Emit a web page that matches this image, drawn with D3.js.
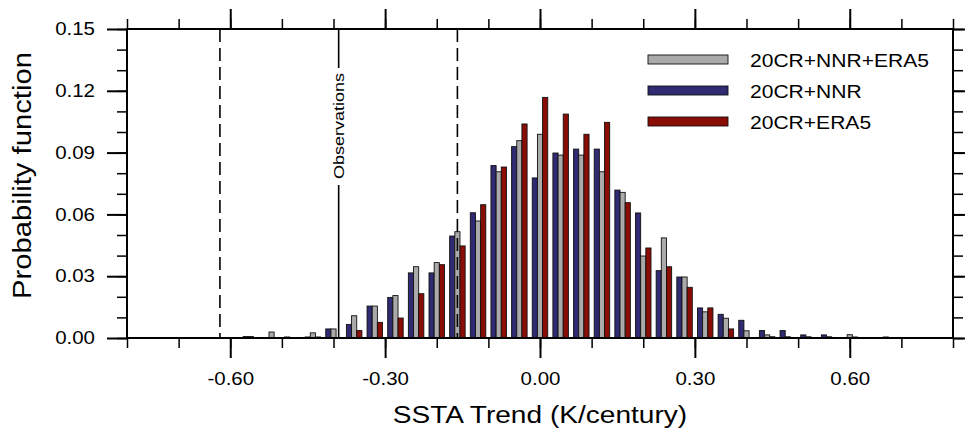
<!DOCTYPE html>
<html>
<head>
<meta charset="utf-8">
<script src="https://cdn.jsdelivr.net/npm/d3@7"></script>
<style>
  body { margin: 0; background: #fff; }
  text { font-family: "Liberation Sans", Arial, sans-serif; fill: #000; }
</style>
</head>
<body>
<svg id="chart"></svg>
<script>
// bin centres (K/century) and probabilities per dataset
const binCenters = [-0.56, -0.52, -0.48, -0.44, -0.40, -0.36, -0.32, -0.28, -0.24, -0.20,
	-0.16, -0.12, -0.08, -0.04, 0.00, 0.04, 0.08, 0.12, 0.16, 0.20,
	0.24, 0.28, 0.32, 0.36, 0.40, 0.44, 0.48, 0.52, 0.56, 0.60, 0.64, 0.68];

const nnr = [0.0007, 0, 0.0005, 0.0005, 0.0044, 0.0066, 0.0155, 0.0197, 0.0316, 0.0316,
	0.0495, 0.0608, 0.0837, 0.0929, 0.0777, 0.0898, 0.0917, 0.0917, 0.0718, 0.0607,
	0.0327, 0.0296, 0.0146, 0.0115, 0.0086, 0.0036, 0.0036, 0.0015, 0.0015, 0, 0, 0.0005];

const nnrEra5 = [0.0007, 0.0029, 0, 0.0025, 0.0044, 0.0108, 0.0155, 0.0206, 0.0346, 0.0366,
	0.0516, 0.0568, 0.0807, 0.0958, 0.0989, 0.0888, 0.0888, 0.0807, 0.0707, 0.0398,
	0.0486, 0.0296, 0.0127, 0.0096, 0.0035, 0.0015, 0.0006, 0.0006, 0.0006, 0.0016, 0, 0];

const era5 = [0, 0, 0, 0.0005, 0, 0.0036, 0.0076, 0.0097, 0.0215, 0.0356,
	0.0447, 0.0647, 0.0830, 0.1039, 0.1168, 0.1087, 0.0989, 0.1047, 0.0657, 0.0437,
	0.0346, 0.0246, 0.0146, 0.0044, 0, 0.0006, 0, 0, 0, 0.0005, 0, 0];

const seriesNames = ['20CR+NNR+ERA5', '20CR+NNR', '20CR+ERA5'];
const xMajorTicks = [-0.6, -0.3, 0, 0.3, 0.6];
const yMajorTicks = [0, 0.03, 0.06, 0.09, 0.12, 0.15];
const observed = -0.39;
const rangeLines = [-0.62, -0.16];

const width = 965, height = 431;
const margin = { top: 29, right: 12, bottom: 93, left: 127 };
const innerW = width - margin.left - margin.right;
const innerH = height - margin.top - margin.bottom;
const sx = 1.17; // the original font is wider than Liberation Sans

const colors = { '20CR+NNR+ERA5': '#aaaaaa', '20CR+NNR': '#2f2a72', '20CR+ERA5': '#8a0d05' };

const svg = d3.select('#chart').attr('width', width).attr('height', height);
const chart = svg.append('g').attr('transform', `translate(${margin.left},${margin.top})`);

const x = d3.scaleLinear().domain([-0.8, 0.8]).range([0, innerW]);
const y = d3.scaleLinear().domain([0, 0.15]).range([innerH, 0]);

const barW = 0.01;
// bar order within a bin: blue, gray, red
const series = [
	{ name: '20CR+NNR', values: nnr, offset: -0.01 },
	{ name: '20CR+NNR+ERA5', values: nnrEra5, offset: 0 },
	{ name: '20CR+ERA5', values: era5, offset: 0.01 },
];

series.forEach((s) => {
	chart.append('g')
		.selectAll('rect')
		.data(binCenters.map((c, i) => ({ c, v: s.values[i] })).filter((d) => d.v > 0))
		.join('rect')
		.attr('x', (d) => x(d.c + s.offset - barW / 2))
		.attr('width', x(barW) - x(0))
		.attr('y', (d) => y(d.v))
		.attr('height', (d) => y(0) - y(d.v))
		.attr('fill', colors[s.name])
		.attr('stroke', '#111')
		.attr('stroke-width', 0.9);
});

// dashed range lines
chart.selectAll('.range-line')
	.data(rangeLines)
	.join('line')
	.attr('class', 'range-line')
	.attr('x1', (d) => x(d)).attr('x2', (d) => x(d))
	.attr('y1', 0).attr('y2', innerH)
	.attr('stroke', '#000')
	.attr('stroke-width', 1.6)
	.attr('stroke-dasharray', '13,6');

// observation line with label cut into it
const obsTextTop = 44, obsTextBottom = 150;
chart.append('line')
	.attr('x1', x(observed)).attr('x2', x(observed))
	.attr('y1', 0).attr('y2', obsTextTop - 5)
	.attr('stroke', '#000').attr('stroke-width', 1.6);
chart.append('line')
	.attr('x1', x(observed)).attr('x2', x(observed))
	.attr('y1', obsTextBottom + 6).attr('y2', innerH)
	.attr('stroke', '#000').attr('stroke-width', 1.6);
chart.append('text')
	.attr('transform', `translate(${x(observed) + 5.5},${(obsTextTop + obsTextBottom) / 2}) rotate(-90) scale(${sx},1)`)
	.attr('text-anchor', 'middle')
	.style('font-size', '15.4px')
	.text('Observations');

// axes: minor ticks, then major ticks with labels
function styleAxis(g, w) {
	g.select('.domain').remove();
	g.selectAll('line').attr('stroke', '#000').attr('stroke-width', w);
}

const xMinor = d3.range(-8, 9).map((i) => i / 10);
const yMinor = d3.range(0, 16).map((i) => i / 100);

chart.append('g').attr('transform', `translate(0,${innerH})`)
	.call(d3.axisBottom(x).tickValues(xMinor).tickSize(10).tickFormat(''))
	.call((g) => styleAxis(g, 1.5));
chart.append('g').call(d3.axisTop(x).tickValues(xMinor).tickSize(10).tickFormat(''))
	.call((g) => styleAxis(g, 1.5));
chart.append('g').call(d3.axisLeft(y).tickValues(yMinor).tickSize(10).tickFormat(''))
	.call((g) => styleAxis(g, 1.5));
chart.append('g').attr('transform', `translate(${innerW},0)`)
	.call(d3.axisRight(y).tickValues(yMinor).tickSize(10).tickFormat(''))
	.call((g) => styleAxis(g, 1.5));

const xAxis = chart.append('g').attr('transform', `translate(0,${innerH})`)
	.call(d3.axisBottom(x).tickValues(xMajorTicks).tickSize(20).tickPadding(15)
		.tickFormat((d) => d.toFixed(2)))
	.call((g) => styleAxis(g, 2));
xAxis.selectAll('text')
	.attr('transform', `scale(${sx},1)`)
	.style('font-size', '17.5px');

chart.append('g')
	.call(d3.axisTop(x).tickValues(xMajorTicks).tickSize(20).tickFormat(''))
	.call((g) => styleAxis(g, 2));

const yAxis = chart.append('g')
	.call(d3.axisLeft(y).tickValues(yMajorTicks).tickSize(20).tickFormat((d) => d.toFixed(2)))
	.call((g) => styleAxis(g, 2));
yAxis.selectAll('text')
	.attr('x', 0)
	.attr('transform', `translate(-32,0) scale(${sx},1)`)
	.style('font-size', '17.5px');

chart.append('g').attr('transform', `translate(${innerW},0)`)
	.call(d3.axisRight(y).tickValues(yMajorTicks).tickSize(20).tickFormat(''))
	.call((g) => styleAxis(g, 2));

// frame
chart.append('rect')
	.attr('width', innerW).attr('height', innerH)
	.attr('fill', 'none').attr('stroke', '#000').attr('stroke-width', 2);

// legend
const legend = svg.append('g').attr('transform', 'translate(648,55)');
seriesNames.forEach((name, i) => {
	legend.append('rect')
		.attr('x', 0).attr('y', i * 31)
		.attr('width', 80).attr('height', 9)
		.attr('fill', colors[name])
		.attr('stroke', '#111').attr('stroke-width', 0.9);
	legend.append('text')
		.attr('transform', `translate(102,${i * 31 + 12}) scale(${sx},1)`)
		.style('font-size', '18px')
		.text(name);
});

// axis titles
svg.append('text')
	.attr('transform', `translate(${margin.left + x(0)},423) scale(${sx},1)`)
	.attr('text-anchor', 'middle')
	.style('font-size', '24px')
	.text('SSTA Trend (K/century)');

svg.append('text')
	.attr('transform', `translate(31,${margin.top + innerH / 2 - 8}) rotate(-90) scale(${sx},1)`)
	.attr('text-anchor', 'middle')
	.style('font-size', '25px')
	.text('Probability function');
</script>
</body>
</html>
